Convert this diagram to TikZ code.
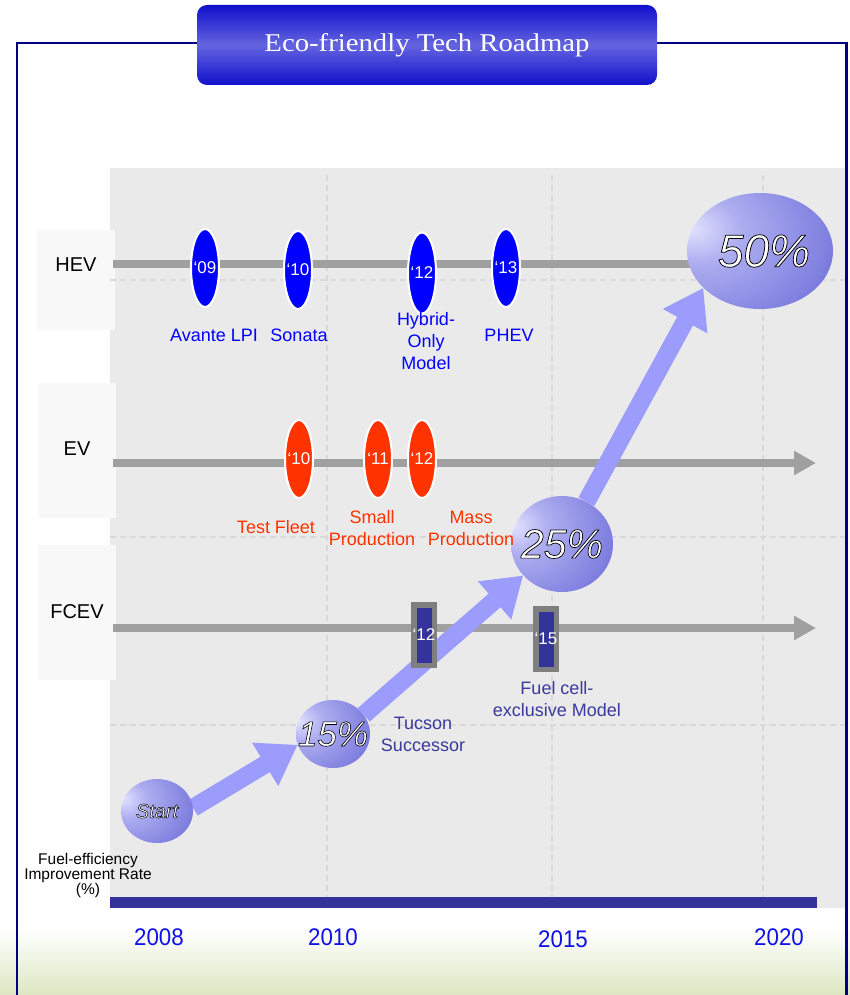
\documentclass[tikz,border=0pt]{standalone}
\usepackage{fontspec}
\setmainfont{Liberation Sans}
\newfontfamily\titlefont{Liberation Serif}
\usetikzlibrary{arrows.meta,shapes.geometric}

\definecolor{frameblue}{HTML}{000080}
\definecolor{chartgray}{HTML}{EAEAEB}
\definecolor{labelbg}{HTML}{F8F8F8}
\definecolor{linegray}{HTML}{A0A0A0}
\definecolor{gridgray}{HTML}{D9D9DA}
\definecolor{hevblue}{HTML}{0000FF}
\definecolor{evred}{HTML}{FF3300}
\definecolor{fcblue}{HTML}{333399}
\definecolor{fcgray}{HTML}{7F7F7F}
\definecolor{fctext}{HTML}{3A3A9C}
\definecolor{arrowblue}{HTML}{9C9CFC}
\definecolor{yearblue}{HTML}{1010E8}
\definecolor{titledark}{HTML}{1010CC}
\definecolor{titlelight}{HTML}{6464E0}
\definecolor{grass}{HTML}{DCE7C2}
\definecolor{bubhi}{HTML}{E2E2FF}
\definecolor{bubl}{HTML}{ADADF0}
\definecolor{bubm}{HTML}{8080E0}
\definecolor{bubd}{HTML}{4E4EC6}
\definecolor{bubx}{HTML}{4040B8}

\pgfdeclareradialshading{bubshade}{\pgfpoint{-24bp}{10bp}}{color(0bp)=(bubhi); color(14bp)=(bubl); color(38bp)=(bubm); color(58bp)=(bubd); color(75bp)=(bubx); color(100bp)=(bubx)}

\newcommand{\shtxt}[2][0.7]{\makebox[0pt]{\special{pdf:literal direct 0 0 0 RG 2 Tr #1 w}#2\special{pdf:literal direct 0 Tr}}}

\begin{document}
\begin{tikzpicture}[x=1pt,y=-1pt,
  hevmark/.style={ellipse, fill=hevblue, draw=white, line width=2pt, minimum width=28pt, minimum height=78pt, inner sep=0pt, text=white, font=\fontsize{17}{17}\selectfont},
  evmark/.style={hevmark, fill=evred},
  fcmark/.style={rectangle, fill=fcblue, draw=fcgray, line width=5.5pt, minimum width=20.5pt, minimum height=60.5pt, inner sep=0pt, text=white, font=\fontsize{17}{17}\selectfont},
  hevlbl/.style={text=hevblue, font=\fontsize{18}{22}\selectfont, align=center, inner sep=0pt},
  evlbl/.style={hevlbl, text=evred},
  fclbl/.style={hevlbl, text=fctext},
  rowlbl/.style={font=\fontsize{20}{20}\selectfont, inner sep=0pt},
  rowline/.style={draw=linegray, line width=7.5pt},
  rowarrow/.style={rowline, -{Triangle[length=22pt,width=23pt]}},
  gridline/.style={draw=gridgray, line width=1.5pt, dash pattern=on 6pt off 4pt},
  bubble/.style={ellipse, shade, shading=bubshade, inner sep=0pt, text=white},
  bigarrow/.style={draw=arrowblue, line width=18pt, -{Triangle[length=38pt,width=48pt]}},
  year/.style={text=yearblue, font=\fontsize{24}{24}\selectfont, inner sep=0pt},
  titlebox/.style={rounded corners=10pt, minimum width=460pt, minimum height=80pt, top color=titledark, bottom color=titledark, middle color=titlelight, text=white, inner sep=0pt}
]
\useasboundingbox (0,0) rectangle (850,995);
\clip (0,0) rectangle (850,995);
\fill[white] (0,0) rectangle (850,995);
\shade[top color=white, bottom color=grass] (0,928) rectangle (850,995);

% frame and title
\draw[frameblue, line width=2.5pt] (17,43) rectangle (846.5,1010);
\node[titlebox] (title) at (427,45) {\raisebox{5pt}{\titlefont\resizebox{325pt}{18pt}{Eco-friendly Tech Roadmap}}};

% chart background
\fill[chartgray] (110,168) rectangle (845,908);
\fill[labelbg] (37,230) rectangle (115,330);
\fill[labelbg] (38,383) rectangle (116,518);
\fill[labelbg] (38,545) rectangle (116,680);
\node[rowlbl] (hevl) at (76,265) {HEV};
\node[rowlbl] (evl) at (77,449) {EV};
\node[rowlbl] (fcl) at (77,612) {FCEV};

% grid
\draw[gridline] (110,280) -- (845,280);
\draw[gridline] (110,537) -- (845,537);
\draw[gridline] (110,725) -- (845,725);
\draw[gridline] (327,175) -- (327,897);
\draw[gridline] (552,175) -- (552,897);
\draw[gridline] (763,175) -- (763,897);

% axis bar
\fill[fcblue] (110,897) rectangle (817,908);

% row lines
\coordinate (hevS) at (113,264);
\coordinate (hevE) at (720,264);
\coordinate (evS) at (113,463);
\coordinate (evE) at (816,463);
\coordinate (fcS) at (113,628);
\coordinate (fcE) at (816,628);
\draw[rowline] (hevS) -- (hevE);
\draw[rowarrow] (evS) -- (evE);
\draw[rowarrow] (fcS) -- (fcE);

% bubble positions
\path
  (157,811) coordinate (cstart)
  (333,734) coordinate (c15)
  (562,544) coordinate (c25)
  (760,251) coordinate (c50);
\path
  (cstart) node[ellipse, minimum width=72pt, minimum height=64pt, inner sep=0pt] (start) {}
  (c15) node[ellipse, minimum width=74pt, minimum height=68pt, inner sep=0pt] (p15) {}
  (c25) node[ellipse, minimum width=102pt, minimum height=96pt, inner sep=0pt] (p25) {}
  (c50) node[ellipse, minimum width=146pt, minimum height=116pt, inner sep=0pt] (p50) {};

% big arrows
\draw[bigarrow] (start.5) -- (p15.197);
\draw[bigarrow] (p15.32) -- (p25.219);
\draw[bigarrow] (p25.60) -- (p50.213);

% bubbles with text, on top of arrows
\node[bubble, minimum width=72pt, minimum height=64pt] (bstart) at (cstart) {\fontsize{20}{20}\selectfont\itshape\shtxt[0.5]{Start}};
\node[bubble, minimum width=74pt, minimum height=68pt] (b15) at (c15) {\fontsize{35}{35}\selectfont\itshape\shtxt[0.6]{15\%}};
\node[bubble, minimum width=102pt, minimum height=96pt] (b25) at (c25) {\fontsize{41}{41}\selectfont\itshape\shtxt[0.7]{25\%}};
\node[bubble, minimum width=146pt, minimum height=116pt] (b50) at (c50) {\raisebox{-4pt}{\hspace{8pt}\fontsize{46}{46}\selectfont\itshape\shtxt[0.75]{50\%}}};

% HEV
\node[hevmark] (h09) at (205,268) {\makebox[0pt]{‘09}};
\node[hevmark] (h10) at (298,270) {\makebox[0pt]{‘10}};
\node[hevmark, minimum height=81pt] (h12) at (422,273) {\makebox[0pt]{‘12}};
\node[hevmark] (h13) at (506,268) {\makebox[0pt]{‘13}};
\node[hevlbl] (lh09) at (214,335) {Avante LPI};
\node[hevlbl] (lh10) at (299,335) {Sonata};
\node[hevlbl] (lh12) at (426,341) {Hybrid-\\Only\\Model};
\node[hevlbl] (lh13) at (509,335) {PHEV};

% EV
\node[evmark] (e10) at (299,459) {\makebox[0pt]{‘10}};
\node[evmark] (e11) at (378,459) {\makebox[0pt]{‘11}};
\node[evmark] (e12) at (422,459) {\makebox[0pt]{‘12}};
\node[evlbl] (le10) at (276,527) {Test Fleet};
\node[evlbl] (le11) at (372,528) {Small\\Production};
\node[evlbl] (le12) at (471,528) {Mass\\Production};

% FCEV
\node[fcmark] (f12) at (424,635) {\makebox[0pt]{‘12}};
\node[fcmark] (f15) at (546,639) {\makebox[0pt]{‘15}};
\node[fclbl] (lf12) at (423,734) {Tucson\\Successor};
\node[fclbl] (lf15) at (557,699) {Fuel cell-\\exclusive Model};

% axis labels
\node[font=\fontsize{15.5}{15}\selectfont, align=center, inner sep=0pt] (ylbl) at (88,875) {Fuel-efficiency\\Improvement Rate\\(\%)};
\node[year] (y2008) at (159,937) {\scalebox{0.93}[1]{2008}};
\node[year] (y2010) at (333,937) {\scalebox{0.93}[1]{2010}};
\node[year] (y2015) at (563,939) {\scalebox{0.93}[1]{2015}};
\node[year] (y2020) at (779,937) {\scalebox{0.93}[1]{2020}};
\end{tikzpicture}
\end{document}
